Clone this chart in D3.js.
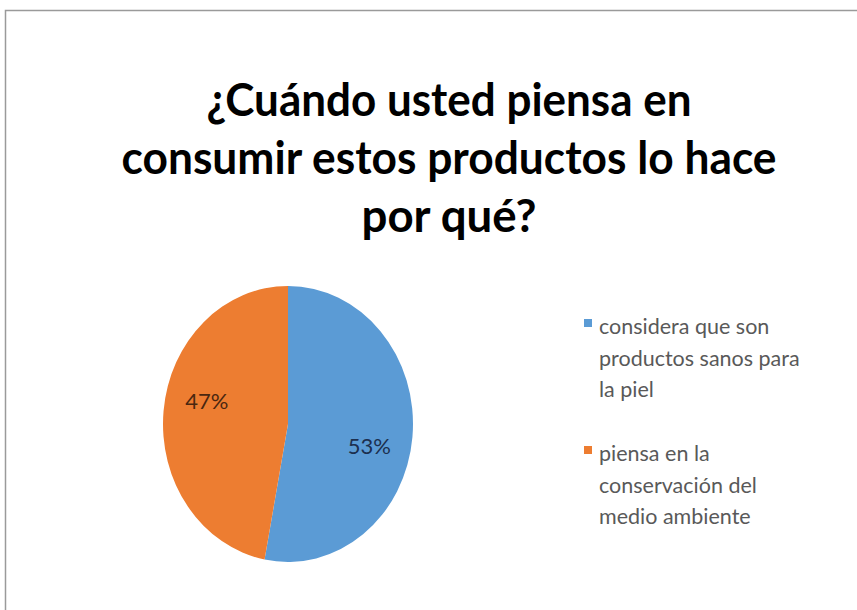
<!DOCTYPE html>
<html>
<head>
<meta charset="utf-8">
<script src="https://cdn.jsdelivr.net/npm/d3@7"></script>
<style>
  body { margin: 0; background: #fff; }
  svg text { font-family: Lato, "Open Sans", sans-serif; }
</style>
</head>
<body>
<div id="chart"></div>
<script>
// chart data
const titleLines = ["¿Cuándo usted piensa en", "consumir estos productos lo hace", "por qué?"];
const categories = ["considera que son productos sanos para la piel", "piensa en la conservación del medio ambiente"];
const values = [53, 47];
const legendLines = [["considera que son", "productos sanos para", "la piel"], ["piensa en la", "conservación del", "medio ambiente"]];

const width = 857, height = 610;
const colors = d3.scaleOrdinal().domain(categories).range(["#5b9bd5", "#ed7d31"]);
const labelColors = d3.scaleOrdinal().domain(categories).range(["#1c2f4f", "#4a2710"]);

const svg = d3.select("#chart").append("svg")
    .attr("width", width)
    .attr("height", height);

// chart area border (only top and left edges are in frame)
svg.append("rect")
    .attr("x", 5.5).attr("y", 10.5)
    .attr("width", 900).attr("height", 700)
    .attr("fill", "#fff")
    .attr("stroke", "#9a9a9a")
    .attr("stroke-width", 1.5);

// title
const titleWidths = [485, 655, 175];
svg.append("g").selectAll("text")
    .data(titleLines)
    .enter().append("text")
    .attr("x", 449)
    .attr("y", (d, i) => 116 + i * 58)
    .attr("text-anchor", "middle")
    .attr("textLength", (d, i) => titleWidths[i])
    .attr("lengthAdjust", "spacingAndGlyphs")
    .style("font-size", "45px")
    .style("font-weight", "bold")
    .style("fill", "#000")
    .text(d => d);

// pie (picture is slightly squashed horizontally)
const cx = 288, cy = 424, r = 138, sx = 125 / 138;
const pie = d3.pie().sort(null).value(d => d.value);
const arcs = pie(categories.map((c, i) => ({ key: c, value: values[i] })));
const arc = d3.arc().innerRadius(0).outerRadius(r);
const labelR = r * 0.67, labelTurn = 0.15; // excel-style label spot, a bit clockwise of mid angle
const labelArc = d3.arc().innerRadius(labelR).outerRadius(labelR)
    .startAngle(d => d.startAngle + labelTurn)
    .endAngle(d => d.endAngle + labelTurn);

const pieG = svg.append("g")
    .attr("transform", "translate(" + cx + "," + cy + ") scale(" + sx + ",1)");

pieG.selectAll("path")
    .data(arcs)
    .enter().append("path")
    .attr("d", arc)
    .attr("fill", d => colors(d.data.key));

svg.append("g").selectAll("text")
    .data(arcs)
    .enter().append("text")
    .attr("x", d => cx + labelArc.centroid(d)[0] * sx)
    .attr("y", d => cy + labelArc.centroid(d)[1])
    .attr("dy", "0.35em")
    .attr("text-anchor", "middle")
    .style("font-size", "22px")
    .style("fill", d => labelColors(d.data.key))
    .text(d => d.data.value + "%");

// legend
const legend = svg.append("g").attr("transform", "translate(584,0)");
const entries = legend.selectAll("g")
    .data(categories)
    .enter().append("g")
    .attr("transform", (d, i) => "translate(0," + (i * 127) + ")");

entries.append("rect")
    .attr("x", 0).attr("y", 319)
    .attr("width", 8).attr("height", 8)
    .attr("fill", d => colors(d));

entries.append("text")
    .attr("x", 15)
    .attr("y", 334)
    .style("font-size", "21.5px")
    .style("fill", "#595959")
    .selectAll("tspan")
    .data((d, i) => legendLines[i])
    .enter().append("tspan")
    .attr("x", 15)
    .attr("dy", (d, i) => i === 0 ? 0 : 31.5)
    .text(d => d);
</script>
</body>
</html>
